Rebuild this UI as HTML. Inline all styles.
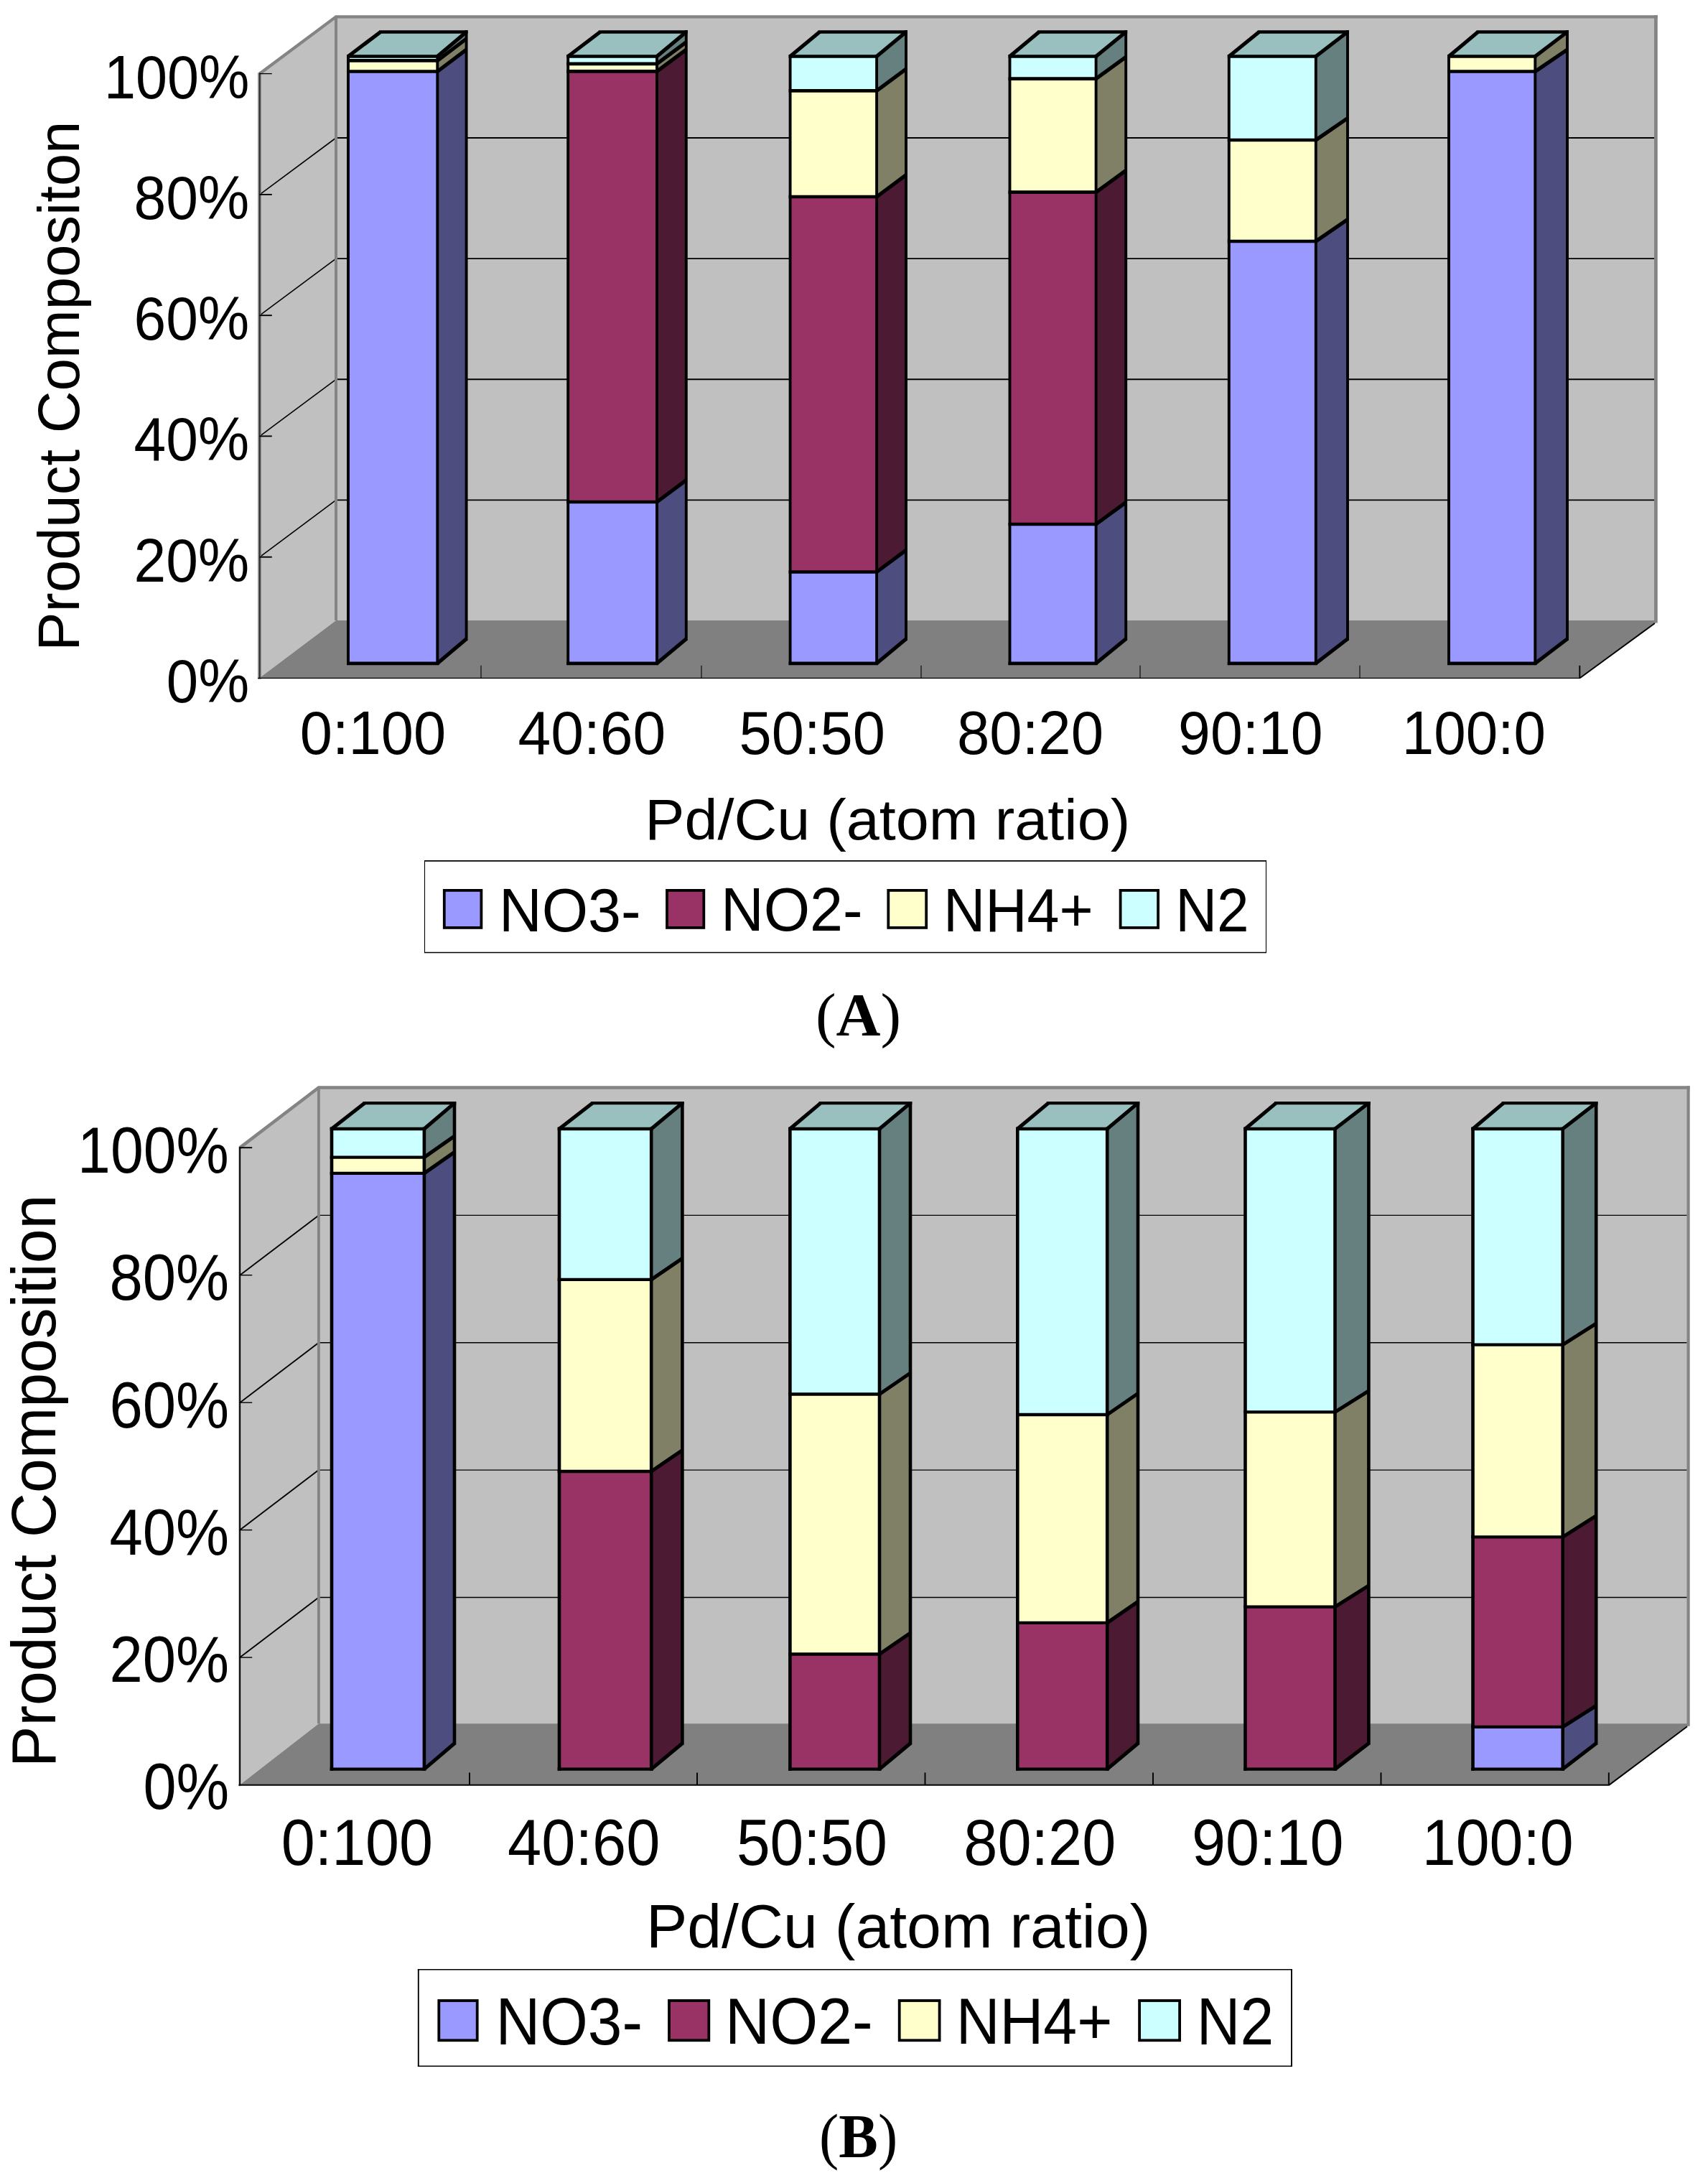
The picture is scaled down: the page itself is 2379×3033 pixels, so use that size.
<!DOCTYPE html>
<html lang="en"><head><meta charset="utf-8"><title>Product composition vs Pd/Cu atom ratio</title>
<style>
html,body{margin:0;padding:0;background:#fff;}
svg{display:block;}
.sans{font-family:"Liberation Sans",Arial,Helvetica,sans-serif;fill:#000;}
.serif{font-family:"Liberation Serif","Times New Roman",Times,serif;fill:#000;}
</style></head><body>
<svg width="2379" height="3033" viewBox="0 0 2379 3033">
<rect width="2379" height="3033" fill="#fff"/>
<rect x="468" y="23.3" width="1838.4" height="843.7" fill="#C0C0C0"/>
<polygon points="361.5,102.7 468,23.3 468,864 361.5,944" fill="#C0C0C0" stroke="none" stroke-width="0" stroke-linejoin="round" />
<polygon points="361.5,944 468,864 2306.4,864 2306.4,867 2200.3,944" fill="#808080" stroke="none" stroke-width="0" stroke-linejoin="round" />
<line x1="468" y1="696.4" x2="2304.4" y2="696.4" stroke="#000" stroke-width="1.9" />
<line x1="361.8" y1="775.7" x2="468" y2="696.4" stroke="#000" stroke-width="1.6" />
<line x1="468" y1="528.3" x2="2304.4" y2="528.3" stroke="#000" stroke-width="1.9" />
<line x1="361.8" y1="607.4" x2="468" y2="528.3" stroke="#000" stroke-width="1.6" />
<line x1="468" y1="360.1" x2="2304.4" y2="360.1" stroke="#000" stroke-width="1.9" />
<line x1="361.8" y1="439.2" x2="468" y2="360.1" stroke="#000" stroke-width="1.6" />
<line x1="468" y1="192" x2="2304.4" y2="192" stroke="#000" stroke-width="1.9" />
<line x1="361.8" y1="270.9" x2="468" y2="192" stroke="#000" stroke-width="1.6" />
<polyline points="361.5,102.7 468,23.3 2308.8,23.3" fill="none" stroke="#848484" stroke-width="4.3" stroke-linejoin="miter"/>
<line x1="361.5" y1="101.2" x2="361.5" y2="945.7" stroke="#848484" stroke-width="4.7" />
<line x1="2306.4" y1="21.2" x2="2306.4" y2="867.6" stroke="#848484" stroke-width="4.7" />
<line x1="468" y1="23.3" x2="468" y2="864" stroke="#848484" stroke-width="4.0" />
<line x1="361.8" y1="101.6" x2="361.8" y2="944" stroke="#000" stroke-width="1.1" />
<line x1="361.2" y1="775.7" x2="378.8" y2="775.7" stroke="#000" stroke-width="1.9" />
<line x1="361.2" y1="607.4" x2="378.8" y2="607.4" stroke="#000" stroke-width="1.9" />
<line x1="361.2" y1="439.2" x2="378.8" y2="439.2" stroke="#000" stroke-width="1.9" />
<line x1="361.2" y1="270.9" x2="378.8" y2="270.9" stroke="#000" stroke-width="1.9" />
<line x1="361.2" y1="102.6" x2="378.8" y2="102.6" stroke="#000" stroke-width="1.3" />
<line x1="359.1" y1="944.4" x2="2201.3" y2="944.4" stroke="#000" stroke-width="1.3" />
<line x1="2200.9" y1="944" x2="2304.8" y2="868" stroke="#000" stroke-width="2.0" />
<line x1="670" y1="926.8" x2="670" y2="944" stroke="#000" stroke-width="1.1" />
<line x1="977" y1="926.8" x2="977" y2="944" stroke="#000" stroke-width="1.1" />
<line x1="1283" y1="926.8" x2="1283" y2="944" stroke="#000" stroke-width="1.1" />
<line x1="1588" y1="926.8" x2="1588" y2="944" stroke="#000" stroke-width="1.1" />
<line x1="1894" y1="926.8" x2="1894" y2="944" stroke="#000" stroke-width="1.1" />
<line x1="2200.3" y1="926.8" x2="2200.3" y2="944" stroke="#000" stroke-width="1.9" />
<polygon points="609.3,923.8 649.6,889.8 649.6,69.2 609.3,99.5" fill="#4D4D80" stroke="none" stroke-width="0" stroke-linejoin="round" />
<polygon points="485,923.8 609.3,923.8 609.3,99.5 485,99.5" fill="#9999FF" stroke="none" stroke-width="0" stroke-linejoin="round" />
<polygon points="609.3,99.5 649.6,69.2 649.6,54 609.3,84.3" fill="#808066" stroke="none" stroke-width="0" stroke-linejoin="round" />
<polygon points="485,99.5 609.3,99.5 609.3,84.3 485,84.3" fill="#FFFFCC" stroke="none" stroke-width="0" stroke-linejoin="round" />
<polygon points="609.3,84.3 649.6,54 649.6,44.5 609.3,78.5" fill="#668080" stroke="none" stroke-width="0" stroke-linejoin="round" />
<polygon points="485,84.3 609.3,84.3 609.3,78.5 485,78.5" fill="#CCFFFF" stroke="none" stroke-width="0" stroke-linejoin="round" />
<polygon points="485,78.5 609.3,78.5 649.6,44.5 530,44.5" fill="#99BFBF" stroke="none" stroke-width="0" stroke-linejoin="round" />
<line x1="483.1" y1="923.8" x2="611.2" y2="923.8" stroke="#000" stroke-width="4.7" />
<line x1="609.3" y1="923.8" x2="649.6" y2="889.8" stroke="#000" stroke-width="5.2" />
<line x1="483.1" y1="99.5" x2="611.2" y2="99.5" stroke="#000" stroke-width="4.7" />
<line x1="609.3" y1="99.5" x2="649.6" y2="69.2" stroke="#000" stroke-width="5.2" />
<line x1="483.1" y1="84.3" x2="611.2" y2="84.3" stroke="#000" stroke-width="4.7" />
<line x1="609.3" y1="84.3" x2="649.6" y2="54" stroke="#000" stroke-width="5.2" />
<line x1="483.1" y1="78.5" x2="611.2" y2="78.5" stroke="#000" stroke-width="4.7" />
<line x1="609.3" y1="78.5" x2="649.6" y2="44.5" stroke="#000" stroke-width="5.2" />
<line x1="528" y1="44.5" x2="651.6" y2="44.5" stroke="#000" stroke-width="4.7" />
<line x1="485" y1="78.5" x2="530" y2="44.5" stroke="#000" stroke-width="5.2" />
<line x1="485" y1="926.1" x2="485" y2="76.2" stroke="#000" stroke-width="3.9" />
<line x1="609.3" y1="926.1" x2="609.3" y2="76.2" stroke="#000" stroke-width="3.9" />
<line x1="649.6" y1="892.1" x2="649.6" y2="42.1" stroke="#000" stroke-width="3.9" />
<polygon points="915,923.8 955.8,889.8 955.8,668.7 915,699" fill="#4D4D80" stroke="none" stroke-width="0" stroke-linejoin="round" />
<polygon points="791.2,923.8 915,923.8 915,699 791.2,699" fill="#9999FF" stroke="none" stroke-width="0" stroke-linejoin="round" />
<polygon points="915,699 955.8,668.7 955.8,69.1 915,99.4" fill="#4D1A33" stroke="none" stroke-width="0" stroke-linejoin="round" />
<polygon points="791.2,699 915,699 915,99.4 791.2,99.4" fill="#993366" stroke="none" stroke-width="0" stroke-linejoin="round" />
<polygon points="915,99.4 955.8,69.1 955.8,58.6 915,88.9" fill="#808066" stroke="none" stroke-width="0" stroke-linejoin="round" />
<polygon points="791.2,99.4 915,99.4 915,88.9 791.2,88.9" fill="#FFFFCC" stroke="none" stroke-width="0" stroke-linejoin="round" />
<polygon points="915,88.9 955.8,58.6 955.8,44.5 915,78.5" fill="#668080" stroke="none" stroke-width="0" stroke-linejoin="round" />
<polygon points="791.2,88.9 915,88.9 915,78.5 791.2,78.5" fill="#CCFFFF" stroke="none" stroke-width="0" stroke-linejoin="round" />
<polygon points="791.2,78.5 915,78.5 955.8,44.5 835.9,44.5" fill="#99BFBF" stroke="none" stroke-width="0" stroke-linejoin="round" />
<line x1="789.2" y1="923.8" x2="917" y2="923.8" stroke="#000" stroke-width="4.7" />
<line x1="915" y1="923.8" x2="955.8" y2="889.8" stroke="#000" stroke-width="5.2" />
<line x1="789.2" y1="699" x2="917" y2="699" stroke="#000" stroke-width="4.7" />
<line x1="915" y1="699" x2="955.8" y2="668.7" stroke="#000" stroke-width="5.2" />
<line x1="789.2" y1="99.4" x2="917" y2="99.4" stroke="#000" stroke-width="4.7" />
<line x1="915" y1="99.4" x2="955.8" y2="69.1" stroke="#000" stroke-width="5.2" />
<line x1="789.2" y1="88.9" x2="917" y2="88.9" stroke="#000" stroke-width="4.7" />
<line x1="915" y1="88.9" x2="955.8" y2="58.6" stroke="#000" stroke-width="5.2" />
<line x1="789.2" y1="78.5" x2="917" y2="78.5" stroke="#000" stroke-width="4.7" />
<line x1="915" y1="78.5" x2="955.8" y2="44.5" stroke="#000" stroke-width="5.2" />
<line x1="833.9" y1="44.5" x2="957.8" y2="44.5" stroke="#000" stroke-width="4.7" />
<line x1="791.2" y1="78.5" x2="835.9" y2="44.5" stroke="#000" stroke-width="5.2" />
<line x1="791.2" y1="926.1" x2="791.2" y2="76.2" stroke="#000" stroke-width="3.9" />
<line x1="915" y1="926.1" x2="915" y2="76.2" stroke="#000" stroke-width="3.9" />
<line x1="955.8" y1="892.1" x2="955.8" y2="42.1" stroke="#000" stroke-width="3.9" />
<polygon points="1221.1,923.8 1262,889.8 1262,766.2 1221.1,796.5" fill="#4D4D80" stroke="none" stroke-width="0" stroke-linejoin="round" />
<polygon points="1100.6,923.8 1221.1,923.8 1221.1,796.5 1100.6,796.5" fill="#9999FF" stroke="none" stroke-width="0" stroke-linejoin="round" />
<polygon points="1221.1,796.5 1262,766.2 1262,243.7 1221.1,274" fill="#4D1A33" stroke="none" stroke-width="0" stroke-linejoin="round" />
<polygon points="1100.6,796.5 1221.1,796.5 1221.1,274 1100.6,274" fill="#993366" stroke="none" stroke-width="0" stroke-linejoin="round" />
<polygon points="1221.1,274 1262,243.7 1262,96.1 1221.1,126.4" fill="#808066" stroke="none" stroke-width="0" stroke-linejoin="round" />
<polygon points="1100.6,274 1221.1,274 1221.1,126.4 1100.6,126.4" fill="#FFFFCC" stroke="none" stroke-width="0" stroke-linejoin="round" />
<polygon points="1221.1,126.4 1262,96.1 1262,44.5 1221.1,78.5" fill="#668080" stroke="none" stroke-width="0" stroke-linejoin="round" />
<polygon points="1100.6,126.4 1221.1,126.4 1221.1,78.5 1100.6,78.5" fill="#CCFFFF" stroke="none" stroke-width="0" stroke-linejoin="round" />
<polygon points="1100.6,78.5 1221.1,78.5 1262,44.5 1141.6,44.5" fill="#99BFBF" stroke="none" stroke-width="0" stroke-linejoin="round" />
<line x1="1098.6" y1="923.8" x2="1223" y2="923.8" stroke="#000" stroke-width="4.7" />
<line x1="1221.1" y1="923.8" x2="1262" y2="889.8" stroke="#000" stroke-width="5.2" />
<line x1="1098.6" y1="796.5" x2="1223" y2="796.5" stroke="#000" stroke-width="4.7" />
<line x1="1221.1" y1="796.5" x2="1262" y2="766.2" stroke="#000" stroke-width="5.2" />
<line x1="1098.6" y1="274" x2="1223" y2="274" stroke="#000" stroke-width="4.7" />
<line x1="1221.1" y1="274" x2="1262" y2="243.7" stroke="#000" stroke-width="5.2" />
<line x1="1098.6" y1="126.4" x2="1223" y2="126.4" stroke="#000" stroke-width="4.7" />
<line x1="1221.1" y1="126.4" x2="1262" y2="96.1" stroke="#000" stroke-width="5.2" />
<line x1="1098.6" y1="78.5" x2="1223" y2="78.5" stroke="#000" stroke-width="4.7" />
<line x1="1221.1" y1="78.5" x2="1262" y2="44.5" stroke="#000" stroke-width="5.2" />
<line x1="1139.6" y1="44.5" x2="1264" y2="44.5" stroke="#000" stroke-width="4.7" />
<line x1="1100.6" y1="78.5" x2="1141.6" y2="44.5" stroke="#000" stroke-width="5.2" />
<line x1="1100.6" y1="926.1" x2="1100.6" y2="76.2" stroke="#000" stroke-width="3.9" />
<line x1="1221.1" y1="926.1" x2="1221.1" y2="76.2" stroke="#000" stroke-width="3.9" />
<line x1="1262" y1="892.1" x2="1262" y2="42.1" stroke="#000" stroke-width="3.9" />
<polygon points="1526.6,923.8 1568.2,889.8 1568.2,699.7 1526.6,730" fill="#4D4D80" stroke="none" stroke-width="0" stroke-linejoin="round" />
<polygon points="1406.5,923.8 1526.6,923.8 1526.6,730 1406.5,730" fill="#9999FF" stroke="none" stroke-width="0" stroke-linejoin="round" />
<polygon points="1526.6,730 1568.2,699.7 1568.2,237.4 1526.6,267.7" fill="#4D1A33" stroke="none" stroke-width="0" stroke-linejoin="round" />
<polygon points="1406.5,730 1526.6,730 1526.6,267.7 1406.5,267.7" fill="#993366" stroke="none" stroke-width="0" stroke-linejoin="round" />
<polygon points="1526.6,267.7 1568.2,237.4 1568.2,79.3 1526.6,109.6" fill="#808066" stroke="none" stroke-width="0" stroke-linejoin="round" />
<polygon points="1406.5,267.7 1526.6,267.7 1526.6,109.6 1406.5,109.6" fill="#FFFFCC" stroke="none" stroke-width="0" stroke-linejoin="round" />
<polygon points="1526.6,109.6 1568.2,79.3 1568.2,44.5 1526.6,78.5" fill="#668080" stroke="none" stroke-width="0" stroke-linejoin="round" />
<polygon points="1406.5,109.6 1526.6,109.6 1526.6,78.5 1406.5,78.5" fill="#CCFFFF" stroke="none" stroke-width="0" stroke-linejoin="round" />
<polygon points="1406.5,78.5 1526.6,78.5 1568.2,44.5 1447.3,44.5" fill="#99BFBF" stroke="none" stroke-width="0" stroke-linejoin="round" />
<line x1="1404.5" y1="923.8" x2="1528.5" y2="923.8" stroke="#000" stroke-width="4.7" />
<line x1="1526.6" y1="923.8" x2="1568.2" y2="889.8" stroke="#000" stroke-width="5.2" />
<line x1="1404.5" y1="730" x2="1528.5" y2="730" stroke="#000" stroke-width="4.7" />
<line x1="1526.6" y1="730" x2="1568.2" y2="699.7" stroke="#000" stroke-width="5.2" />
<line x1="1404.5" y1="267.7" x2="1528.5" y2="267.7" stroke="#000" stroke-width="4.7" />
<line x1="1526.6" y1="267.7" x2="1568.2" y2="237.4" stroke="#000" stroke-width="5.2" />
<line x1="1404.5" y1="109.6" x2="1528.5" y2="109.6" stroke="#000" stroke-width="4.7" />
<line x1="1526.6" y1="109.6" x2="1568.2" y2="79.3" stroke="#000" stroke-width="5.2" />
<line x1="1404.5" y1="78.5" x2="1528.5" y2="78.5" stroke="#000" stroke-width="4.7" />
<line x1="1526.6" y1="78.5" x2="1568.2" y2="44.5" stroke="#000" stroke-width="5.2" />
<line x1="1445.3" y1="44.5" x2="1570.2" y2="44.5" stroke="#000" stroke-width="4.7" />
<line x1="1406.5" y1="78.5" x2="1447.3" y2="44.5" stroke="#000" stroke-width="5.2" />
<line x1="1406.5" y1="926.1" x2="1406.5" y2="76.2" stroke="#000" stroke-width="3.9" />
<line x1="1526.6" y1="926.1" x2="1526.6" y2="76.2" stroke="#000" stroke-width="3.9" />
<line x1="1568.2" y1="892.1" x2="1568.2" y2="42.1" stroke="#000" stroke-width="3.9" />
<polygon points="1832.8,923.8 1877,889.8 1877,305.7 1832.8,336" fill="#4D4D80" stroke="none" stroke-width="0" stroke-linejoin="round" />
<polygon points="1711.8,923.8 1832.8,923.8 1832.8,336 1711.8,336" fill="#9999FF" stroke="none" stroke-width="0" stroke-linejoin="round" />
<polygon points="1832.8,336 1877,305.7 1877,164.7 1832.8,195" fill="#808066" stroke="none" stroke-width="0" stroke-linejoin="round" />
<polygon points="1711.8,336 1832.8,336 1832.8,195 1711.8,195" fill="#FFFFCC" stroke="none" stroke-width="0" stroke-linejoin="round" />
<polygon points="1832.8,195 1877,164.7 1877,44.5 1832.8,78.5" fill="#668080" stroke="none" stroke-width="0" stroke-linejoin="round" />
<polygon points="1711.8,195 1832.8,195 1832.8,78.5 1711.8,78.5" fill="#CCFFFF" stroke="none" stroke-width="0" stroke-linejoin="round" />
<polygon points="1711.8,78.5 1832.8,78.5 1877,44.5 1753.7,44.5" fill="#99BFBF" stroke="none" stroke-width="0" stroke-linejoin="round" />
<line x1="1709.8" y1="923.8" x2="1834.8" y2="923.8" stroke="#000" stroke-width="4.7" />
<line x1="1832.8" y1="923.8" x2="1877" y2="889.8" stroke="#000" stroke-width="5.2" />
<line x1="1709.8" y1="336" x2="1834.8" y2="336" stroke="#000" stroke-width="4.7" />
<line x1="1832.8" y1="336" x2="1877" y2="305.7" stroke="#000" stroke-width="5.2" />
<line x1="1709.8" y1="195" x2="1834.8" y2="195" stroke="#000" stroke-width="4.7" />
<line x1="1832.8" y1="195" x2="1877" y2="164.7" stroke="#000" stroke-width="5.2" />
<line x1="1709.8" y1="78.5" x2="1834.8" y2="78.5" stroke="#000" stroke-width="4.7" />
<line x1="1832.8" y1="78.5" x2="1877" y2="44.5" stroke="#000" stroke-width="5.2" />
<line x1="1751.8" y1="44.5" x2="1879" y2="44.5" stroke="#000" stroke-width="4.7" />
<line x1="1711.8" y1="78.5" x2="1753.7" y2="44.5" stroke="#000" stroke-width="5.2" />
<line x1="1711.8" y1="926.1" x2="1711.8" y2="76.2" stroke="#000" stroke-width="3.9" />
<line x1="1832.8" y1="926.1" x2="1832.8" y2="76.2" stroke="#000" stroke-width="3.9" />
<line x1="1877" y1="892.1" x2="1877" y2="42.1" stroke="#000" stroke-width="3.9" />
<polygon points="2138.3,923.8 2183,889.8 2183,69.2 2138.3,99.5" fill="#4D4D80" stroke="none" stroke-width="0" stroke-linejoin="round" />
<polygon points="2018,923.8 2138.3,923.8 2138.3,99.5 2018,99.5" fill="#9999FF" stroke="none" stroke-width="0" stroke-linejoin="round" />
<polygon points="2138.3,99.5 2183,69.2 2183,44.5 2138.3,78.5" fill="#808066" stroke="none" stroke-width="0" stroke-linejoin="round" />
<polygon points="2018,99.5 2138.3,99.5 2138.3,78.5 2018,78.5" fill="#FFFFCC" stroke="none" stroke-width="0" stroke-linejoin="round" />
<polygon points="2018,78.5 2138.3,78.5 2183,44.5 2058.6,44.5" fill="#99BFBF" stroke="none" stroke-width="0" stroke-linejoin="round" />
<line x1="2016" y1="923.8" x2="2140.2" y2="923.8" stroke="#000" stroke-width="4.7" />
<line x1="2138.3" y1="923.8" x2="2183" y2="889.8" stroke="#000" stroke-width="5.2" />
<line x1="2016" y1="99.5" x2="2140.2" y2="99.5" stroke="#000" stroke-width="4.7" />
<line x1="2138.3" y1="99.5" x2="2183" y2="69.2" stroke="#000" stroke-width="5.2" />
<line x1="2016" y1="78.5" x2="2140.2" y2="78.5" stroke="#000" stroke-width="4.7" />
<line x1="2138.3" y1="78.5" x2="2183" y2="44.5" stroke="#000" stroke-width="5.2" />
<line x1="2056.7" y1="44.5" x2="2184.9" y2="44.5" stroke="#000" stroke-width="4.7" />
<line x1="2018" y1="78.5" x2="2058.6" y2="44.5" stroke="#000" stroke-width="5.2" />
<line x1="2018" y1="926.1" x2="2018" y2="76.2" stroke="#000" stroke-width="3.9" />
<line x1="2138.3" y1="926.1" x2="2138.3" y2="76.2" stroke="#000" stroke-width="3.9" />
<line x1="2183" y1="892.1" x2="2183" y2="42.1" stroke="#000" stroke-width="3.9" />
<rect x="591.5" y="1198.8" width="1172" height="127.7" fill="#fff"/>
<line x1="591" y1="1198.8" x2="1764" y2="1198.8" stroke="#000" stroke-width="1.7" />
<line x1="591" y1="1326.5" x2="1764" y2="1326.5" stroke="#000" stroke-width="1.7" />
<line x1="591.5" y1="1198.8" x2="591.5" y2="1326.5" stroke="#000" stroke-width="1.1" />
<line x1="1763.5" y1="1198.8" x2="1763.5" y2="1326.5" stroke="#000" stroke-width="1.1" />
<rect x="618.8" y="1239.9" width="51.6" height="52" fill="#9999FF" stroke="#000" stroke-width="3.8"/>
<rect x="929" y="1239.9" width="51.3" height="52" fill="#993366" stroke="#000" stroke-width="3.8"/>
<rect x="1237.3" y="1239.9" width="52.9" height="52" fill="#FFFFCC" stroke="#000" stroke-width="3.8"/>
<rect x="1560.6" y="1239.9" width="52.5" height="52" fill="#CCFFFF" stroke="#000" stroke-width="3.8"/>
<rect x="443.9" y="1514.5" width="1907.7" height="888.7" fill="#C0C0C0"/>
<polygon points="334,1598.4 443.9,1514.5 443.9,2400.2 334,2485.6" fill="#C0C0C0" stroke="none" stroke-width="0" stroke-linejoin="round" />
<polygon points="334,2485.6 443.9,2400.2 2351.6,2400.2 2351.6,2403.2 2240.8,2485.6" fill="#808080" stroke="none" stroke-width="0" stroke-linejoin="round" />
<line x1="443.9" y1="2224.5" x2="2349.6" y2="2224.5" stroke="#000" stroke-width="1.4" />
<line x1="334.2" y1="2308.1" x2="443.9" y2="2224.5" stroke="#000" stroke-width="1.9" />
<line x1="443.9" y1="2047.1" x2="2349.6" y2="2047.1" stroke="#000" stroke-width="1.4" />
<line x1="334.2" y1="2130.6" x2="443.9" y2="2047.1" stroke="#000" stroke-width="1.9" />
<line x1="443.9" y1="1869.8" x2="2349.6" y2="1869.8" stroke="#000" stroke-width="1.4" />
<line x1="334.2" y1="1953.2" x2="443.9" y2="1869.8" stroke="#000" stroke-width="1.9" />
<line x1="443.9" y1="1692.4" x2="2349.6" y2="1692.4" stroke="#000" stroke-width="1.4" />
<line x1="334.2" y1="1775.7" x2="443.9" y2="1692.4" stroke="#000" stroke-width="1.9" />
<polyline points="334,1598.4 443.9,1514.5 2353.7,1514.5" fill="none" stroke="#848484" stroke-width="4.5" stroke-linejoin="miter"/>
<line x1="333.7" y1="1596.9" x2="333.7" y2="2487.3" stroke="#848484" stroke-width="2.4" />
<line x1="2351.6" y1="1512.2" x2="2351.6" y2="2403.8" stroke="#848484" stroke-width="4.2" />
<line x1="443.9" y1="1514.5" x2="443.9" y2="2400.2" stroke="#848484" stroke-width="3.9" />
<line x1="334.2" y1="1597.5" x2="334.2" y2="2485.6" stroke="#000" stroke-width="1.9" />
<line x1="333.2" y1="2308.1" x2="351.2" y2="2308.1" stroke="#000" stroke-width="1.4" />
<line x1="333.2" y1="2130.6" x2="351.2" y2="2130.6" stroke="#000" stroke-width="1.4" />
<line x1="333.2" y1="1953.2" x2="351.2" y2="1953.2" stroke="#000" stroke-width="1.4" />
<line x1="333.2" y1="1775.7" x2="351.2" y2="1775.7" stroke="#000" stroke-width="1.4" />
<line x1="333.2" y1="1598.2" x2="351.2" y2="1598.2" stroke="#000" stroke-width="1.9" />
<line x1="332.5" y1="2485.7" x2="2241.8" y2="2485.7" stroke="#000" stroke-width="1.9" />
<line x1="2241.4" y1="2485.6" x2="2350" y2="2404.2" stroke="#000" stroke-width="2.0" />
<line x1="654" y1="2468.4" x2="654" y2="2485.6" stroke="#000" stroke-width="1.9" />
<line x1="971" y1="2468.4" x2="971" y2="2485.6" stroke="#000" stroke-width="1.9" />
<line x1="1288.5" y1="2468.4" x2="1288.5" y2="2485.6" stroke="#000" stroke-width="1.9" />
<line x1="1606" y1="2468.4" x2="1606" y2="2485.6" stroke="#000" stroke-width="1.9" />
<line x1="1923.5" y1="2468.4" x2="1923.5" y2="2485.6" stroke="#000" stroke-width="1.9" />
<line x1="2240.8" y1="2468.4" x2="2240.8" y2="2485.6" stroke="#000" stroke-width="1.9" />
<polygon points="590.9,2463.6 633,2427.7 633,1604.4 590.9,1633.9" fill="#4D4D80" stroke="none" stroke-width="0" stroke-linejoin="round" />
<polygon points="462,2463.6 590.9,2463.6 590.9,1633.9 462,1633.9" fill="#9999FF" stroke="none" stroke-width="0" stroke-linejoin="round" />
<polygon points="590.9,1633.9 633,1604.4 633,1582.1 590.9,1611.6" fill="#808066" stroke="none" stroke-width="0" stroke-linejoin="round" />
<polygon points="462,1633.9 590.9,1633.9 590.9,1611.6 462,1611.6" fill="#FFFFCC" stroke="none" stroke-width="0" stroke-linejoin="round" />
<polygon points="590.9,1611.6 633,1582.1 633,1536.1 590.9,1572" fill="#668080" stroke="none" stroke-width="0" stroke-linejoin="round" />
<polygon points="462,1611.6 590.9,1611.6 590.9,1572 462,1572" fill="#CCFFFF" stroke="none" stroke-width="0" stroke-linejoin="round" />
<polygon points="462,1572 590.9,1572 633,1536.1 508,1536.1" fill="#99BFBF" stroke="none" stroke-width="0" stroke-linejoin="round" />
<line x1="459.7" y1="2463.6" x2="593.2" y2="2463.6" stroke="#000" stroke-width="4.3" />
<line x1="590.9" y1="2463.6" x2="633" y2="2427.7" stroke="#000" stroke-width="5.1" />
<line x1="459.7" y1="1633.9" x2="593.2" y2="1633.9" stroke="#000" stroke-width="4.3" />
<line x1="590.9" y1="1633.9" x2="633" y2="1604.4" stroke="#000" stroke-width="5.1" />
<line x1="459.7" y1="1611.6" x2="593.2" y2="1611.6" stroke="#000" stroke-width="4.3" />
<line x1="590.9" y1="1611.6" x2="633" y2="1582.1" stroke="#000" stroke-width="5.1" />
<line x1="459.7" y1="1572" x2="593.2" y2="1572" stroke="#000" stroke-width="4.3" />
<line x1="590.9" y1="1572" x2="633" y2="1536.1" stroke="#000" stroke-width="5.1" />
<line x1="505.7" y1="1536.1" x2="635.3" y2="1536.1" stroke="#000" stroke-width="4.3" />
<line x1="462" y1="1572" x2="508" y2="1536.1" stroke="#000" stroke-width="5.1" />
<line x1="462" y1="2465.8" x2="462" y2="1569.8" stroke="#000" stroke-width="4.6" />
<line x1="590.9" y1="2465.8" x2="590.9" y2="1569.8" stroke="#000" stroke-width="4.6" />
<line x1="633" y1="2429.8" x2="633" y2="1533.9" stroke="#000" stroke-width="4.6" />
<polygon points="907.2,2463.6 950.4,2427.7 950.4,2019.5 907.2,2049" fill="#4D1A33" stroke="none" stroke-width="0" stroke-linejoin="round" />
<polygon points="779,2463.6 907.2,2463.6 907.2,2049 779,2049" fill="#993366" stroke="none" stroke-width="0" stroke-linejoin="round" />
<polygon points="907.2,2049 950.4,2019.5 950.4,1752.4 907.2,1781.9" fill="#808066" stroke="none" stroke-width="0" stroke-linejoin="round" />
<polygon points="779,2049 907.2,2049 907.2,1781.9 779,1781.9" fill="#FFFFCC" stroke="none" stroke-width="0" stroke-linejoin="round" />
<polygon points="907.2,1781.9 950.4,1752.4 950.4,1536.1 907.2,1572" fill="#668080" stroke="none" stroke-width="0" stroke-linejoin="round" />
<polygon points="779,1781.9 907.2,1781.9 907.2,1572 779,1572" fill="#CCFFFF" stroke="none" stroke-width="0" stroke-linejoin="round" />
<polygon points="779,1572 907.2,1572 950.4,1536.1 825.4,1536.1" fill="#99BFBF" stroke="none" stroke-width="0" stroke-linejoin="round" />
<line x1="776.7" y1="2463.6" x2="909.5" y2="2463.6" stroke="#000" stroke-width="4.3" />
<line x1="907.2" y1="2463.6" x2="950.4" y2="2427.7" stroke="#000" stroke-width="5.1" />
<line x1="776.7" y1="2049" x2="909.5" y2="2049" stroke="#000" stroke-width="4.3" />
<line x1="907.2" y1="2049" x2="950.4" y2="2019.5" stroke="#000" stroke-width="5.1" />
<line x1="776.7" y1="1781.9" x2="909.5" y2="1781.9" stroke="#000" stroke-width="4.3" />
<line x1="907.2" y1="1781.9" x2="950.4" y2="1752.4" stroke="#000" stroke-width="5.1" />
<line x1="776.7" y1="1572" x2="909.5" y2="1572" stroke="#000" stroke-width="4.3" />
<line x1="907.2" y1="1572" x2="950.4" y2="1536.1" stroke="#000" stroke-width="5.1" />
<line x1="823.1" y1="1536.1" x2="952.7" y2="1536.1" stroke="#000" stroke-width="4.3" />
<line x1="779" y1="1572" x2="825.4" y2="1536.1" stroke="#000" stroke-width="5.1" />
<line x1="779" y1="2465.8" x2="779" y2="1569.8" stroke="#000" stroke-width="4.6" />
<line x1="907.2" y1="2465.8" x2="907.2" y2="1569.8" stroke="#000" stroke-width="4.6" />
<line x1="950.4" y1="2429.8" x2="950.4" y2="1533.9" stroke="#000" stroke-width="4.6" />
<polygon points="1225,2463.6 1268,2427.7 1268,2274 1225,2303.5" fill="#4D1A33" stroke="none" stroke-width="0" stroke-linejoin="round" />
<polygon points="1100.4,2463.6 1225,2463.6 1225,2303.5 1100.4,2303.5" fill="#993366" stroke="none" stroke-width="0" stroke-linejoin="round" />
<polygon points="1225,2303.5 1268,2274 1268,1912 1225,1941.5" fill="#808066" stroke="none" stroke-width="0" stroke-linejoin="round" />
<polygon points="1100.4,2303.5 1225,2303.5 1225,1941.5 1100.4,1941.5" fill="#FFFFCC" stroke="none" stroke-width="0" stroke-linejoin="round" />
<polygon points="1225,1941.5 1268,1912 1268,1536.1 1225,1572" fill="#668080" stroke="none" stroke-width="0" stroke-linejoin="round" />
<polygon points="1100.4,1941.5 1225,1941.5 1225,1572 1100.4,1572" fill="#CCFFFF" stroke="none" stroke-width="0" stroke-linejoin="round" />
<polygon points="1100.4,1572 1225,1572 1268,1536.1 1143,1536.1" fill="#99BFBF" stroke="none" stroke-width="0" stroke-linejoin="round" />
<line x1="1098.1" y1="2463.6" x2="1227.3" y2="2463.6" stroke="#000" stroke-width="4.3" />
<line x1="1225" y1="2463.6" x2="1268" y2="2427.7" stroke="#000" stroke-width="5.1" />
<line x1="1098.1" y1="2303.5" x2="1227.3" y2="2303.5" stroke="#000" stroke-width="4.3" />
<line x1="1225" y1="2303.5" x2="1268" y2="2274" stroke="#000" stroke-width="5.1" />
<line x1="1098.1" y1="1941.5" x2="1227.3" y2="1941.5" stroke="#000" stroke-width="4.3" />
<line x1="1225" y1="1941.5" x2="1268" y2="1912" stroke="#000" stroke-width="5.1" />
<line x1="1098.1" y1="1572" x2="1227.3" y2="1572" stroke="#000" stroke-width="4.3" />
<line x1="1225" y1="1572" x2="1268" y2="1536.1" stroke="#000" stroke-width="5.1" />
<line x1="1140.7" y1="1536.1" x2="1270.3" y2="1536.1" stroke="#000" stroke-width="4.3" />
<line x1="1100.4" y1="1572" x2="1143" y2="1536.1" stroke="#000" stroke-width="5.1" />
<line x1="1100.4" y1="2465.8" x2="1100.4" y2="1569.8" stroke="#000" stroke-width="4.6" />
<line x1="1225" y1="2465.8" x2="1225" y2="1569.8" stroke="#000" stroke-width="4.6" />
<line x1="1268" y1="2429.8" x2="1268" y2="1533.9" stroke="#000" stroke-width="4.6" />
<polygon points="1542.2,2463.6 1585,2427.7 1585,2230.3 1542.2,2259.8" fill="#4D1A33" stroke="none" stroke-width="0" stroke-linejoin="round" />
<polygon points="1417.3,2463.6 1542.2,2463.6 1542.2,2259.8 1417.3,2259.8" fill="#993366" stroke="none" stroke-width="0" stroke-linejoin="round" />
<polygon points="1542.2,2259.8 1585,2230.3 1585,1940.5 1542.2,1970" fill="#808066" stroke="none" stroke-width="0" stroke-linejoin="round" />
<polygon points="1417.3,2259.8 1542.2,2259.8 1542.2,1970 1417.3,1970" fill="#FFFFCC" stroke="none" stroke-width="0" stroke-linejoin="round" />
<polygon points="1542.2,1970 1585,1940.5 1585,1536.1 1542.2,1572" fill="#668080" stroke="none" stroke-width="0" stroke-linejoin="round" />
<polygon points="1417.3,1970 1542.2,1970 1542.2,1572 1417.3,1572" fill="#CCFFFF" stroke="none" stroke-width="0" stroke-linejoin="round" />
<polygon points="1417.3,1572 1542.2,1572 1585,1536.1 1460.2,1536.1" fill="#99BFBF" stroke="none" stroke-width="0" stroke-linejoin="round" />
<line x1="1415" y1="2463.6" x2="1544.5" y2="2463.6" stroke="#000" stroke-width="4.3" />
<line x1="1542.2" y1="2463.6" x2="1585" y2="2427.7" stroke="#000" stroke-width="5.1" />
<line x1="1415" y1="2259.8" x2="1544.5" y2="2259.8" stroke="#000" stroke-width="4.3" />
<line x1="1542.2" y1="2259.8" x2="1585" y2="2230.3" stroke="#000" stroke-width="5.1" />
<line x1="1415" y1="1970" x2="1544.5" y2="1970" stroke="#000" stroke-width="4.3" />
<line x1="1542.2" y1="1970" x2="1585" y2="1940.5" stroke="#000" stroke-width="5.1" />
<line x1="1415" y1="1572" x2="1544.5" y2="1572" stroke="#000" stroke-width="4.3" />
<line x1="1542.2" y1="1572" x2="1585" y2="1536.1" stroke="#000" stroke-width="5.1" />
<line x1="1457.9" y1="1536.1" x2="1587.3" y2="1536.1" stroke="#000" stroke-width="4.3" />
<line x1="1417.3" y1="1572" x2="1460.2" y2="1536.1" stroke="#000" stroke-width="5.1" />
<line x1="1417.3" y1="2465.8" x2="1417.3" y2="1569.8" stroke="#000" stroke-width="4.6" />
<line x1="1542.2" y1="2465.8" x2="1542.2" y2="1569.8" stroke="#000" stroke-width="4.6" />
<line x1="1585" y1="2429.8" x2="1585" y2="1533.9" stroke="#000" stroke-width="4.6" />
<polygon points="1859.5,2463.6 1906.4,2427.7 1906.4,2208.1 1859.5,2237.6" fill="#4D1A33" stroke="none" stroke-width="0" stroke-linejoin="round" />
<polygon points="1734.5,2463.6 1859.5,2463.6 1859.5,2237.6 1734.5,2237.6" fill="#993366" stroke="none" stroke-width="0" stroke-linejoin="round" />
<polygon points="1859.5,2237.6 1906.4,2208.1 1906.4,1936.9 1859.5,1966.4" fill="#808066" stroke="none" stroke-width="0" stroke-linejoin="round" />
<polygon points="1734.5,2237.6 1859.5,2237.6 1859.5,1966.4 1734.5,1966.4" fill="#FFFFCC" stroke="none" stroke-width="0" stroke-linejoin="round" />
<polygon points="1859.5,1966.4 1906.4,1936.9 1906.4,1536.1 1859.5,1572" fill="#668080" stroke="none" stroke-width="0" stroke-linejoin="round" />
<polygon points="1734.5,1966.4 1859.5,1966.4 1859.5,1572 1734.5,1572" fill="#CCFFFF" stroke="none" stroke-width="0" stroke-linejoin="round" />
<polygon points="1734.5,1572 1859.5,1572 1906.4,1536.1 1777.3,1536.1" fill="#99BFBF" stroke="none" stroke-width="0" stroke-linejoin="round" />
<line x1="1732.2" y1="2463.6" x2="1861.8" y2="2463.6" stroke="#000" stroke-width="4.3" />
<line x1="1859.5" y1="2463.6" x2="1906.4" y2="2427.7" stroke="#000" stroke-width="5.1" />
<line x1="1732.2" y1="2237.6" x2="1861.8" y2="2237.6" stroke="#000" stroke-width="4.3" />
<line x1="1859.5" y1="2237.6" x2="1906.4" y2="2208.1" stroke="#000" stroke-width="5.1" />
<line x1="1732.2" y1="1966.4" x2="1861.8" y2="1966.4" stroke="#000" stroke-width="4.3" />
<line x1="1859.5" y1="1966.4" x2="1906.4" y2="1936.9" stroke="#000" stroke-width="5.1" />
<line x1="1732.2" y1="1572" x2="1861.8" y2="1572" stroke="#000" stroke-width="4.3" />
<line x1="1859.5" y1="1572" x2="1906.4" y2="1536.1" stroke="#000" stroke-width="5.1" />
<line x1="1775" y1="1536.1" x2="1908.7" y2="1536.1" stroke="#000" stroke-width="4.3" />
<line x1="1734.5" y1="1572" x2="1777.3" y2="1536.1" stroke="#000" stroke-width="5.1" />
<line x1="1734.5" y1="2465.8" x2="1734.5" y2="1569.8" stroke="#000" stroke-width="4.6" />
<line x1="1859.5" y1="2465.8" x2="1859.5" y2="1569.8" stroke="#000" stroke-width="4.6" />
<line x1="1906.4" y1="2429.8" x2="1906.4" y2="1533.9" stroke="#000" stroke-width="4.6" />
<polygon points="2176.7,2463.6 2223.2,2427.7 2223.2,2375.4 2176.7,2404.9" fill="#4D4D80" stroke="none" stroke-width="0" stroke-linejoin="round" />
<polygon points="2051.5,2463.6 2176.7,2463.6 2176.7,2404.9 2051.5,2404.9" fill="#9999FF" stroke="none" stroke-width="0" stroke-linejoin="round" />
<polygon points="2176.7,2404.9 2223.2,2375.4 2223.2,2110.8 2176.7,2140.3" fill="#4D1A33" stroke="none" stroke-width="0" stroke-linejoin="round" />
<polygon points="2051.5,2404.9 2176.7,2404.9 2176.7,2140.3 2051.5,2140.3" fill="#993366" stroke="none" stroke-width="0" stroke-linejoin="round" />
<polygon points="2176.7,2140.3 2223.2,2110.8 2223.2,1843.2 2176.7,1872.7" fill="#808066" stroke="none" stroke-width="0" stroke-linejoin="round" />
<polygon points="2051.5,2140.3 2176.7,2140.3 2176.7,1872.7 2051.5,1872.7" fill="#FFFFCC" stroke="none" stroke-width="0" stroke-linejoin="round" />
<polygon points="2176.7,1872.7 2223.2,1843.2 2223.2,1536.1 2176.7,1572" fill="#668080" stroke="none" stroke-width="0" stroke-linejoin="round" />
<polygon points="2051.5,1872.7 2176.7,1872.7 2176.7,1572 2051.5,1572" fill="#CCFFFF" stroke="none" stroke-width="0" stroke-linejoin="round" />
<polygon points="2051.5,1572 2176.7,1572 2223.2,1536.1 2094.1,1536.1" fill="#99BFBF" stroke="none" stroke-width="0" stroke-linejoin="round" />
<line x1="2049.2" y1="2463.6" x2="2179" y2="2463.6" stroke="#000" stroke-width="4.3" />
<line x1="2176.7" y1="2463.6" x2="2223.2" y2="2427.7" stroke="#000" stroke-width="5.1" />
<line x1="2049.2" y1="2404.9" x2="2179" y2="2404.9" stroke="#000" stroke-width="4.3" />
<line x1="2176.7" y1="2404.9" x2="2223.2" y2="2375.4" stroke="#000" stroke-width="5.1" />
<line x1="2049.2" y1="2140.3" x2="2179" y2="2140.3" stroke="#000" stroke-width="4.3" />
<line x1="2176.7" y1="2140.3" x2="2223.2" y2="2110.8" stroke="#000" stroke-width="5.1" />
<line x1="2049.2" y1="1872.7" x2="2179" y2="1872.7" stroke="#000" stroke-width="4.3" />
<line x1="2176.7" y1="1872.7" x2="2223.2" y2="1843.2" stroke="#000" stroke-width="5.1" />
<line x1="2049.2" y1="1572" x2="2179" y2="1572" stroke="#000" stroke-width="4.3" />
<line x1="2176.7" y1="1572" x2="2223.2" y2="1536.1" stroke="#000" stroke-width="5.1" />
<line x1="2091.8" y1="1536.1" x2="2225.5" y2="1536.1" stroke="#000" stroke-width="4.3" />
<line x1="2051.5" y1="1572" x2="2094.1" y2="1536.1" stroke="#000" stroke-width="5.1" />
<line x1="2051.5" y1="2465.8" x2="2051.5" y2="1569.8" stroke="#000" stroke-width="4.6" />
<line x1="2176.7" y1="2465.8" x2="2176.7" y2="1569.8" stroke="#000" stroke-width="4.6" />
<line x1="2223.2" y1="2429.8" x2="2223.2" y2="1533.9" stroke="#000" stroke-width="4.6" />
<rect x="582.8" y="2742.8" width="1216.2" height="134.4" fill="#fff"/>
<line x1="581.8" y1="2742.8" x2="1800" y2="2742.8" stroke="#000" stroke-width="1.4" />
<line x1="581.8" y1="2877.2" x2="1800" y2="2877.2" stroke="#000" stroke-width="1.4" />
<line x1="582.8" y1="2742.8" x2="582.8" y2="2877.2" stroke="#000" stroke-width="1.9" />
<line x1="1799" y1="2742.8" x2="1799" y2="2877.2" stroke="#000" stroke-width="1.9" />
<rect x="611.3" y="2786" width="53.4" height="55.3" fill="#9999FF" stroke="#000" stroke-width="3.8"/>
<rect x="932" y="2786" width="55.3" height="55.3" fill="#993366" stroke="#000" stroke-width="3.8"/>
<rect x="1252.7" y="2786" width="55.9" height="55.3" fill="#FFFFCC" stroke="#000" stroke-width="3.8"/>
<rect x="1587.1" y="2786" width="56" height="55.3" fill="#CCFFFF" stroke="#000" stroke-width="3.8"/>
<text transform="matrix(0 -0.9819 0.9795 0 110.3487 906.7732)" font-size="83" class="sans">Product Compositon</text>
<text transform="matrix(0.9614 0 0 1.0217 231.8158 977.9783)" font-size="83" class="sans">0%</text>
<text transform="matrix(0.968 0 0 1.0217 186.516 809.6983)" font-size="83" class="sans">20%</text>
<text transform="matrix(0.968 0 0 1.0217 186.516 641.4183)" font-size="83" class="sans">40%</text>
<text transform="matrix(0.968 0 0 1.0217 186.516 473.1383)" font-size="83" class="sans">60%</text>
<text transform="matrix(0.9686 0 0 1.0217 186.4258 304.8583)" font-size="83" class="sans">80%</text>
<text transform="matrix(0.9532 0 0 1.0217 145.0808 136.5783)" font-size="83" class="sans">100%</text>
<text transform="matrix(0.9786 0 0 1.0237 417.8642 1050.1763)" font-size="83" class="sans">0:100</text>
<text transform="matrix(0.9911 0 0 1.0237 721.4178 1050.1763)" font-size="83" class="sans">40:60</text>
<text transform="matrix(0.9785 0 0 1.0237 1029.586 1050.1763)" font-size="83" class="sans">50:50</text>
<text transform="matrix(0.9825 0 0 1.0237 1332.97 1050.1763)" font-size="83" class="sans">80:20</text>
<text transform="matrix(0.97 0 0 1.0237 1641.12 1050.1763)" font-size="83" class="sans">90:10</text>
<text transform="matrix(0.9631 0 0 1.0237 1952.8212 1050.1763)" font-size="83" class="sans">100:0</text>
<text transform="matrix(0.997 0 0 0.9615 898.321 1168.9538)" font-size="83" class="sans">Pd/Cu (atom ratio)</text>
<text transform="matrix(0.9963 0 0 1.0339 694.9261 1296.8661)" font-size="83" class="sans">NO3-</text>
<text transform="matrix(0.9968 0 0 1.0186 1004.0223 1295.9814)" font-size="83" class="sans">NO2-</text>
<text transform="matrix(0.9739 0 0 1.0172 1313.8828 1297)" font-size="83" class="sans">NH4+</text>
<text transform="matrix(0.9663 0 0 1.0345 1637.1358 1297)" font-size="83" class="sans">N2</text>
<text transform="matrix(0.9754 0 0 0.9713 1135.8982 1442.2463)" font-size="88" class="serif">(<tspan font-weight="bold">A</tspan>)</text>
<text transform="matrix(0 -0.9986 1.01 0 77.32 2460.8902)" font-size="86" class="sans">Product Composition</text>
<text transform="matrix(0.9636 0 0 1.0656 199.4093 2519.3344)" font-size="86" class="sans">0%</text>
<text transform="matrix(0.968 0 0 1.0656 152.408 2342.0944)" font-size="86" class="sans">20%</text>
<text transform="matrix(0.968 0 0 1.0656 152.408 2164.8544)" font-size="86" class="sans">40%</text>
<text transform="matrix(0.968 0 0 1.0656 152.408 1987.6144)" font-size="86" class="sans">60%</text>
<text transform="matrix(0.9679 0 0 1.0656 152.4285 1810.3744)" font-size="86" class="sans">80%</text>
<text transform="matrix(0.9581 0 0 1.0656 108.0933 1633.1344)" font-size="86" class="sans">100%</text>
<text transform="matrix(0.9828 0 0 1.065 391.6517 2596.735)" font-size="86" class="sans">0:100</text>
<text transform="matrix(0.9867 0 0 1.065 707.0267 2596.735)" font-size="86" class="sans">40:60</text>
<text transform="matrix(0.976 0 0 1.065 1025.8962 2596.735)" font-size="86" class="sans">50:50</text>
<text transform="matrix(0.9851 0 0 1.0475 1342.3596 2596.7525)" font-size="86" class="sans">80:20</text>
<text transform="matrix(0.9827 0 0 1.065 1659.9692 2596.735)" font-size="86" class="sans">90:10</text>
<text transform="matrix(0.98 0 0 1.065 1980.84 2596.735)" font-size="86" class="sans">100:0</text>
<text transform="matrix(1.0001 0 0 0.9975 899.899 2711.945)" font-size="86" class="sans">Pd/Cu (atom ratio)</text>
<text transform="matrix(0.9949 0 0 1.077 690.5359 2846.823)" font-size="86" class="sans">NO3-</text>
<text transform="matrix(1.0005 0 0 1.0623 1010.0964 2845.9377)" font-size="86" class="sans">NO2-</text>
<text transform="matrix(0.9796 0 0 1.06 1331.6427 2845.94)" font-size="86" class="sans">NH4+</text>
<text transform="matrix(0.9768 0 0 1.0767 1666.7626 2847)" font-size="86" class="sans">N2</text>
<text transform="matrix(0.9294 0 0 0.9775 1141.0826 3004.4275)" font-size="88" class="serif">(<tspan font-weight="bold">B</tspan>)</text>
</svg>
</body></html>
